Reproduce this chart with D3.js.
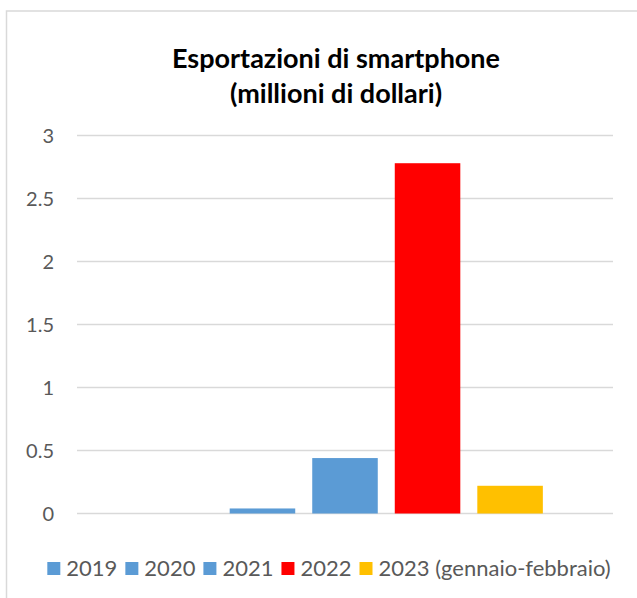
<!DOCTYPE html>
<html>
<head>
<meta charset="utf-8">
<script src="https://cdn.jsdelivr.net/npm/d3@7"></script>
<style>
  html, body { margin: 0; padding: 0; background: #fff; }
  svg { display: block; }
</style>
</head>
<body>
<svg id="chart" width="637" height="598"></svg>
<script>
// Export values by year (millions of dollars)
const years = ["2019", "2020", "2021", "2022", "2023 (gennaio-febbraio)"];
const values = [0, 0.04, 0.44, 2.78, 0.22];
const colors = ["#5b9bd5", "#5b9bd5", "#5b9bd5", "#ff0000", "#ffc000"];
const yTicks = [0, 0.5, 1, 1.5, 2, 2.5, 3];
const titleLines = ["Esportazioni di smartphone", "(millioni di dollari)"];

const svg = d3.select("#chart");
const FONT = "Lato, 'Open Sans', sans-serif";

// chart frame (extends past the right and bottom edges)
svg.append("rect")
  .attr("x", 6.5).attr("y", 11)
  .attr("width", 700).attr("height", 700)
  .attr("fill", "#fff")
  .attr("stroke", "#d9d9d9")
  .attr("stroke-width", 1.5);

const plot = { left: 77, right: 613, top: 135.5, bottom: 513.5 };

const y = d3.scaleLinear().domain([0, 3]).range([plot.bottom, plot.top]);
const x = d3.scaleBand()
  .domain(years)
  .range([plot.left, plot.right])
  .paddingInner(0.206)
  .paddingOuter(0.85);

// gridlines
svg.append("g")
  .selectAll("line")
  .data(yTicks)
  .join("line")
  .attr("x1", plot.left).attr("x2", plot.right)
  .attr("y1", d => y(d)).attr("y2", d => y(d))
  .attr("stroke", "#d9d9d9")
  .attr("stroke-width", 1.5);

// y axis labels
const yAxis = d3.axisLeft(y).tickValues(yTicks).tickFormat(d3.format("")).tickSize(0).tickPadding(0);
const gy = svg.append("g").attr("transform", `translate(54,0)`).call(yAxis);
gy.select(".domain").remove();
gy.selectAll("text")
  .attr("fill", "#595959")
  .attr("font-family", FONT)
  .attr("font-size", 20)
  .attr("dy", "0.36em");

// bars
svg.append("g")
  .selectAll("rect")
  .data(years)
  .join("rect")
  .attr("x", d => x(d))
  .attr("width", x.bandwidth())
  .attr("y", (d, i) => y(values[i]))
  .attr("height", (d, i) => y(0) - y(values[i]))
  .attr("fill", (d, i) => colors[i]);

// title
svg.append("text")
  .attr("x", 336)
  .attr("font-family", FONT)
  .attr("font-weight", 700)
  .attr("font-size", 27)
  .attr("fill", "#000")
  .attr("text-anchor", "middle")
  .selectAll("tspan")
  .data(titleLines)
  .join("tspan")
  .attr("x", 336)
  .attr("y", (d, i) => 68 + i * 35)
  .text(d => d);

// legend
const legend = svg.append("g");
const items = legend.selectAll("g")
  .data(years)
  .join("g");
items.append("rect")
  .attr("width", 13).attr("height", 13)
  .attr("y", -14)
  .attr("fill", (d, i) => colors[i]);
items.append("text")
  .attr("x", 19)
  .attr("fill", "#595959")
  .attr("font-family", FONT)
  .attr("font-size", 22)
  .text(d => d);
let cx = 0;
items.each(function () {
  const w = 19 + d3.select(this).select("text").node().getComputedTextLength();
  d3.select(this).attr("transform", `translate(${cx},0)`);
  cx += w + 8;
});
const legendWidth = cx - 8;
legend.attr("transform", `translate(${329 - legendWidth / 2},576)`);
</script>
</body>
</html>
